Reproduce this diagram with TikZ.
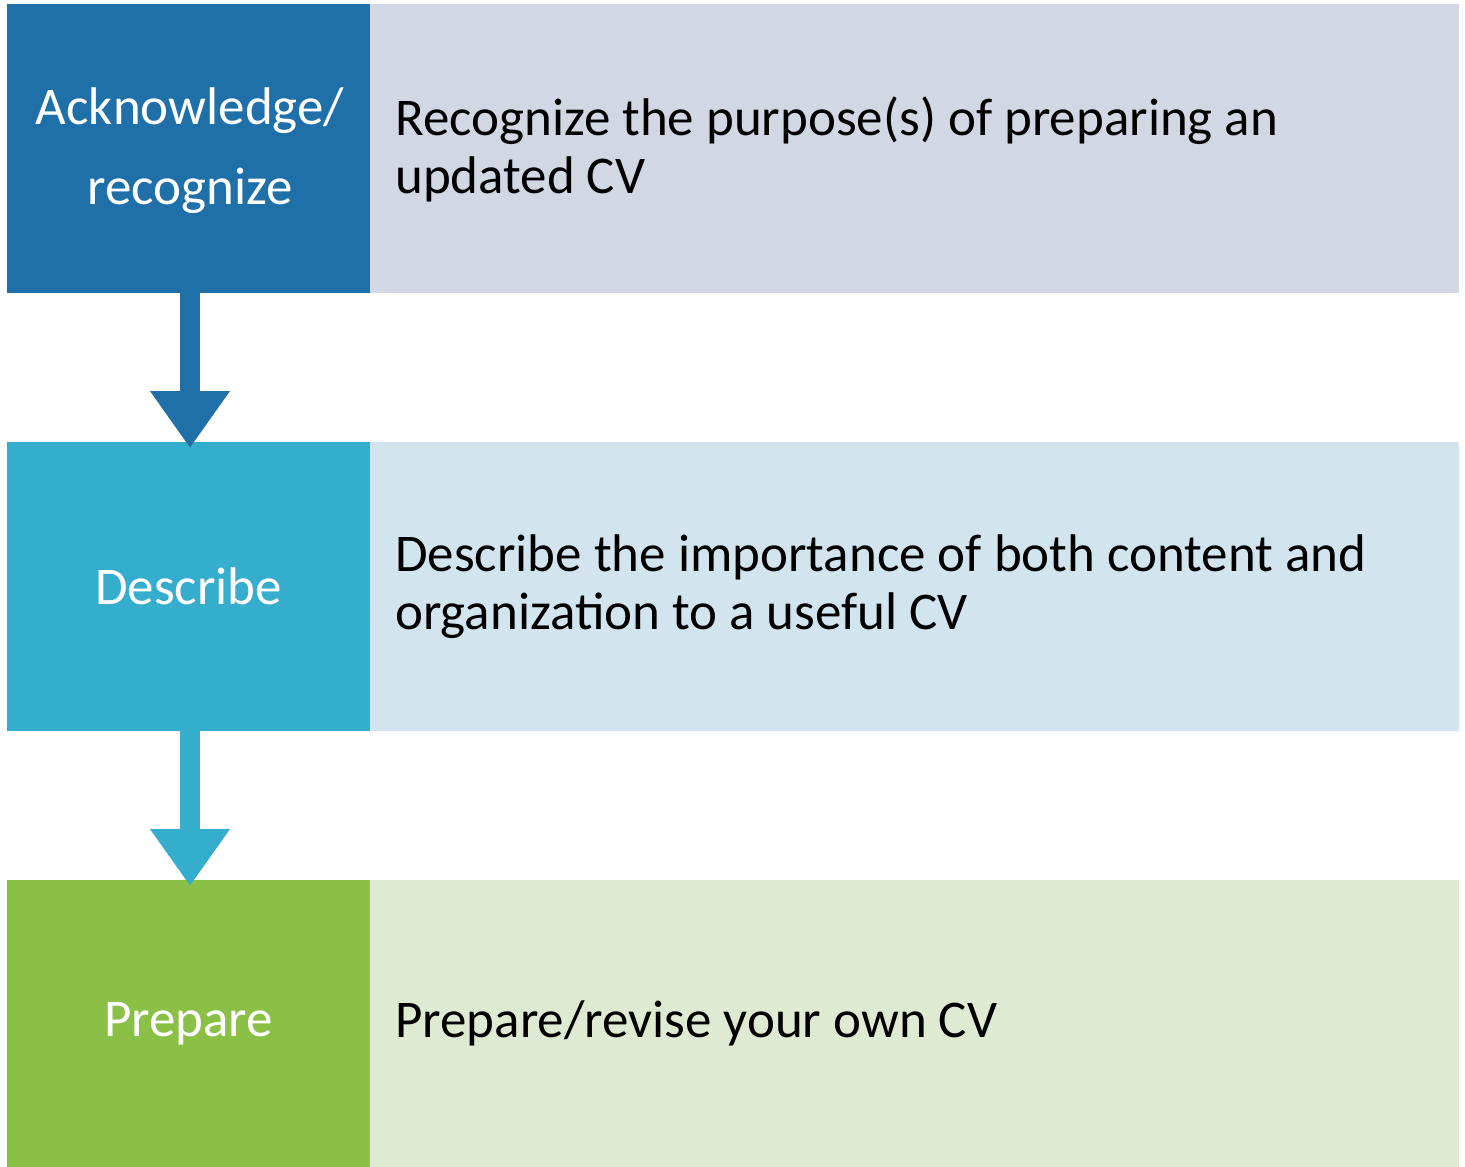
\documentclass[tikz,border=0pt]{standalone}
\usepackage{fontspec}
\setmainfont{Carlito}
\usetikzlibrary{arrows.meta}
\definecolor{c1d}{HTML}{1F6FA8}
\definecolor{c1l}{HTML}{D1D8E4}
\definecolor{c2d}{HTML}{35AECE}
\definecolor{c2l}{HTML}{D2E4EE}
\definecolor{c3d}{HTML}{8BC046}
\definecolor{c3l}{HTML}{DEEAD2}
\tikzset{
  lbox/.style={minimum width=363pt, minimum height=289pt, inner sep=0pt, outer sep=0pt, text=white, align=center, font=\fontsize{53}{80}\selectfont},
  rbox/.style={minimum width=1089pt, minimum height=289pt, inner sep=0pt, outer sep=0pt},
  rtext/.style={anchor=west, inner sep=0pt, align=left, text=black, font=\fontsize{53}{58}\selectfont},
  flowarrow/.style={line width=20pt, line cap=butt, -{Triangle[width=76pt,length=57pt]}, shorten >=-6pt}
}
\begin{document}
\begin{tikzpicture}[x=1pt,y=-1pt]
\useasboundingbox (0,0) rectangle (1465,1167);
% row 1
\node[rbox, fill=c1l] (R1) at (914.5,148.5) {};
\node[lbox, fill=c1d] (L1) at (188.5,148.5) {};
\node[text=white, align=center, inner sep=0pt, font=\fontsize{53}{80}\selectfont] (T1L) at ([xshift=1.5pt,yshift=-2pt]L1.center) {Acknowledge/\\recognize};
\node[rtext] (T1) at ([xshift=25pt,yshift=-1pt]R1.west) {Recognize the purpose(s) of preparing an\\updated CV};
% row 2
\node[rbox, fill=c2l] (R2) at (914.5,586.5) {};
\node[lbox, fill=c2d] (L2) at (188.5,586.5) {Describe};
\node[rtext] (T2) at ([xshift=25pt]R2.west) {Describe the importance of both content and\\organization to a useful CV};
% row 3
\node[rbox, fill=c3l, minimum height=287pt] (R3) at (914.5,1023.5) {};
\node[lbox, fill=c3d, minimum height=287pt] (L3) at (188.5,1023.5) {Prepare};
\node[rtext] (T3) at ([xshift=25pt]R3.west) {Prepare/revise your own CV};
% arrows
\draw[flowarrow, c1d] ([xshift=1.5pt]L1.south) -- ([xshift=1.5pt]L2.north);
\draw[flowarrow, c2d] ([xshift=1.5pt]L2.south) -- ([xshift=1.5pt]L3.north);
\end{tikzpicture}
\end{document}
